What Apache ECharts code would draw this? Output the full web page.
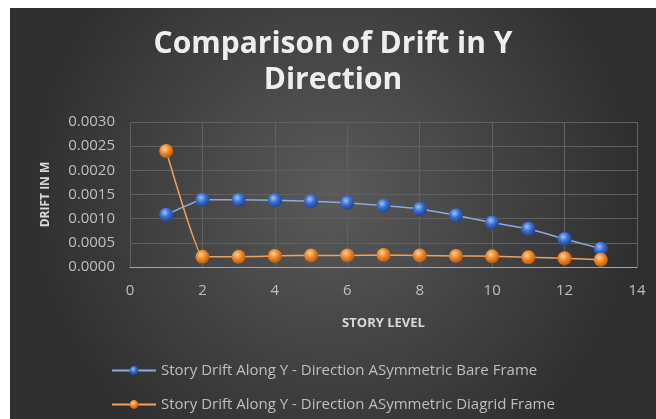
<!DOCTYPE html>
<html><head><meta charset="utf-8">
<script src="https://cdn.jsdelivr.net/npm/echarts@6/dist/echarts.min.js"></script>
<style>
html,body{margin:0;padding:0;background:#fff;width:656px;height:419px;overflow:hidden;}
#c{position:absolute;left:10px;top:8px;width:646px;height:411px;}
</style></head>
<body><div id="c"></div>
<script>
const storyLevels = [1,2,3,4,5,6,7,8,9,10,11,12,13];
const bareFrame = [0.00108,0.00139,0.00139,0.00138,0.00136,0.00133,0.00127,0.00120,0.00107,0.00092,0.00079,0.00058,0.00038];
const diagridFrame = [0.0024,0.00021,0.00021,0.00023,0.00024,0.00024,0.00025,0.00024,0.00023,0.00022,0.00020,0.00018,0.00015];
const seriesNames = ['Story Drift Along Y - Direction ASymmetric Bare Frame','Story Drift Along Y - Direction ASymmetric Diagrid Frame'];
const titleText = 'Comparison of Drift in Y\nDirection';
const xAxisName = 'STORY LEVEL';
const yAxisName = 'DRIFT IN M';

const chart = echarts.init(document.getElementById('c'));
function ball(light, mid, dark){
  return new echarts.graphic.RadialGradient(0.4,0.35,0.7,[
    {offset:0,color:light},{offset:0.45,color:mid},{offset:1,color:dark}]);
}
const font = '"Open Sans", Lato, sans-serif';
chart.setOption({
  animation:false,
  backgroundColor: new echarts.graphic.RadialGradient(0.5,0.45,0.75,[
    {offset:0,color:'#5a5a5a'},{offset:1,color:'#2f2f2f'}]),
  title:{
    text:titleText, left:'center', top:13,
    textStyle:{color:'#eeeeee',fontFamily:font,fontWeight:'bold',fontSize:30,lineHeight:36}
  },
  grid:{left:120,top:114,width:507,height:145},
  legend:{
    orient:'vertical', left:96, top:350, itemGap:19, itemWidth:44, itemHeight:11,
    textStyle:{color:'#bfbfbf',fontFamily:font,fontSize:15},
    data:seriesNames
  },
  xAxis:{
    type:'value', min:0, max:14, interval:2,
    name:xAxisName, nameLocation:'middle', nameGap:50,
    nameTextStyle:{color:'#d9d9d9',fontFamily:font,fontWeight:'bold',fontSize:13},
    axisLine:{show:true,lineStyle:{color:'#a6a6a6',width:1}},
    axisTick:{show:false},
    axisLabel:{color:'#bfbfbf',fontFamily:font,fontSize:15,margin:16},
    splitLine:{show:true,lineStyle:{color:'#606060',width:1}}
  },
  yAxis:{
    type:'value', min:0, max:0.003, interval:0.0005,
    name:yAxisName, nameLocation:'middle', nameGap:78, nameRotate:90,
    nameTextStyle:{color:'#d9d9d9',fontFamily:font,fontWeight:'bold',fontSize:12},
    axisLine:{show:false}, axisTick:{show:false},
    axisLabel:{color:'#bfbfbf',fontFamily:font,fontSize:15,margin:15,formatter:v=>v.toFixed(4)},
    splitLine:{show:true,lineStyle:{color:'#606060',width:1}}
  },
  series:[
    {name:seriesNames[0], type:'line', smooth:0.1,
     data:storyLevels.map((x,i)=>[x,bareFrame[i]]),
     symbol:'circle', symbolSize:14,
     lineStyle:{color:'#8ea9db',width:1.5},
     itemStyle:{color:ball('#9fc2ff','#3a6fd0','#1c3f8a'),borderWidth:0},
     z:2},
    {name:seriesNames[1], type:'line', smooth:0.1,
     data:storyLevels.map((x,i)=>[x,diagridFrame[i]]),
     symbol:'circle', symbolSize:14,
     lineStyle:{color:'#f0a060',width:1.5},
     itemStyle:{color:ball('#ffd29a','#f08a2c','#b4520e'),borderWidth:0},
     z:3}
  ]
});
</script></body></html>
